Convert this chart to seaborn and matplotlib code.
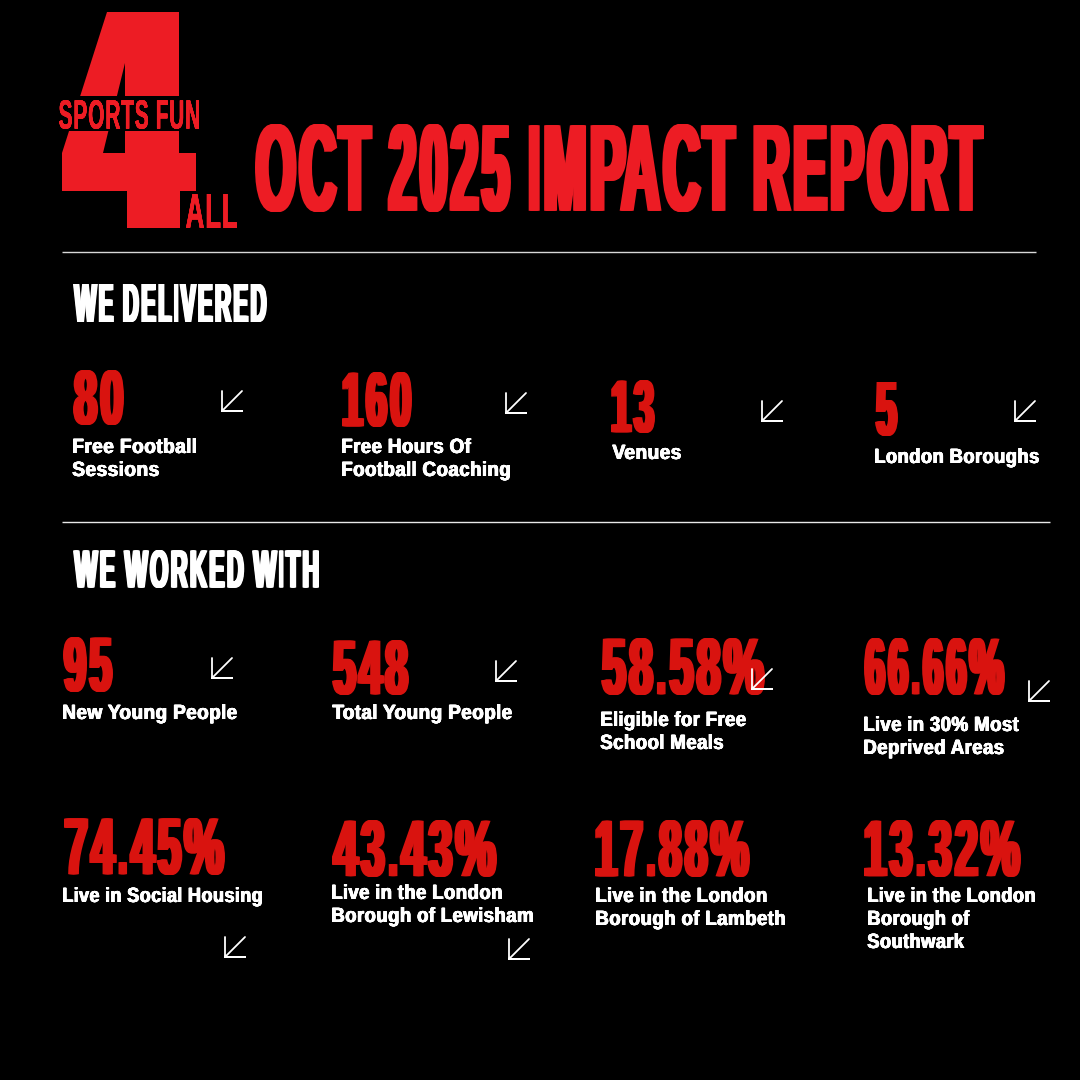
import matplotlib
matplotlib.use('Agg')
import matplotlib.pyplot as plt
import matplotlib.patheffects as pe
from matplotlib.font_manager import FontProperties
from matplotlib.patches import Polygon, Rectangle
from matplotlib.path import Path
from matplotlib.textpath import TextPath
from matplotlib.transforms import Affine2D
import numpy as np
import pandas as pd
import seaborn as sns

RED_LOGO = '#ED1C24'
RED_NUM = '#D9130F'
WHITE = '#FFFFFF'

# Chart content
title = 'OCT 2025 IMPACT REPORT'
logo_top = 'SPORTS FUN'
logo_bottom = 'ALL'
section_names = ['WE DELIVERED', 'WE WORKED WITH']

stat_values = ['80', '160', '13', '5',
               '95', '548', '58.58%', '66.66%',
               '74.45%', '43.43%', '17.88%', '13.32%']
stat_labels = ['Free Football\nSessions',
               'Free Hours Of\nFootball Coaching',
               'Venues',
               'London Boroughs',
               'New Young People',
               'Total Young People',
               'Eligible for Free\nSchool Meals',
               'Live in 30% Most\nDeprived Areas',
               'Live in Social Housing',
               'Live in the London\nBorough of Lewisham',
               'Live in the London\nBorough of Lambeth',
               'Live in the London\nBorough of\nSouthwark']

# Layout, in reference pixels: (left, right, top, bottom) of each number
value_boxes = [(73, 124, 370, 425), (342, 412, 372, 427), (611, 655, 380, 433), (875, 898, 382, 436),
               (63, 113, 637, 692), (332, 409, 640, 695), (601, 765, 638, 695), (864, 1005, 638, 695),
               (64, 225, 818, 875), (332, 497, 820, 877), (595, 750, 820, 877), (864, 1021, 820, 877)]
# left edge, first baseline and right edge of the longest line of each label
label_x = [73, 342, 612, 875, 63, 332, 601, 864, 63, 332, 596, 868]
label_y = [453, 453, 459, 463, 719, 719, 726, 731, 902, 899, 902, 902]
label_right = [196, 510, 681, 1039, 237, 512, 746, 1019, 262, 533, 785, 1035]
# bottom-left corner of each arrow
arrow_x = [222, 506, 762, 1015, 212, 496, 752, 1029, 225, 509]
arrow_y = [411, 413, 421, 421, 678, 681, 689, 701, 957, 959]


def narrow_glyphs(path, cut):
    """Shrink every glyph about its own centre by cut units, leaving the advances alone."""
    verts = path.vertices.copy()
    codes = path.codes
    starts = np.flatnonzero(codes == Path.MOVETO)
    spans = []
    for a, b in zip(starts, list(starts[1:]) + [len(codes)]):
        xs = verts[a:b][codes[a:b] != Path.CLOSEPOLY, 0]
        spans.append((xs.min(), xs.max(), a, b))
    spans.sort()
    groups = []
    for lo, hi, a, b in spans:
        if groups and lo < groups[-1][1]:
            groups[-1][1] = max(groups[-1][1], hi)
            groups[-1][2].append((a, b))
        else:
            groups.append([lo, hi, [(a, b)]])
    for lo, hi, parts in groups:
        w = hi - lo
        k = max(w - cut, 0.3 * w) / w
        for a, b in parts:
            verts[a:b, 0] = (lo + hi) / 2 + (verts[a:b, 0] - (lo + hi) / 2) * k
    return Path(verts, codes)


class Stretch(pe.AbstractPathEffect):
    """Stretch the glyphs upward from the baseline, thicken the stems, set the letter gaps."""

    def __init__(self, sy, bold=0.0, gap=0.0):
        super().__init__()
        self.sy = sy
        self.bold = bold
        self.gap = gap

    def draw_path(self, renderer, gc, tpath, affine, rgbFace=None):
        scaled = Affine2D().scale(1, self.sy) + affine
        px_per_unit = abs(scaled.get_matrix()[0, 0])
        narrow = narrow_glyphs(tpath, (2 * self.bold + self.gap) / px_per_unit)
        for dx in np.linspace(-self.bold, self.bold, 7):
            renderer.draw_path(gc, narrow, scaled + Affine2D().translate(dx, 0), rgbFace)


def fit_text(ax, s, left, right, top, bottom, color, bold=0.0, gap=0.0):
    """Put s so that its ink fills the given box (caps and digits only)."""
    prop = FontProperties(family='Liberation Sans', weight='bold')
    ink = TextPath((0, 0), s, size=100, prop=prop).get_extents()
    size_px = 100 * (right - left + gap) / ink.width
    scale = size_px / 100
    sy = (bottom - top) / (ink.height * scale)
    x = left - gap / 2 - ink.x0 * scale
    y = bottom + ink.y0 * scale * sy
    t = ax.text(x, y, s, fontproperties=prop, fontsize=size_px * 0.72, color=color,
                va='baseline', ha='left', zorder=3)
    t.set_path_effects([Stretch(sy, bold, gap)])
    return t


def label_text(ax, s, left, right, baseline, cap_px, line_px, color, bold=0.0, gap=0.0):
    """Put a possibly multi-line label so its longest line ends at right."""
    prop = FontProperties(family='Liberation Sans', weight='bold')
    inks = [TextPath((0, 0), line, size=100, prop=prop).get_extents() for line in s.split('\n')]
    ink = max(inks, key=lambda b: b.width)
    size_px = 100 * (right - left + gap) / ink.width
    prop.set_size(size_px * 0.72)
    renderer = ax.figure.canvas.get_renderer()
    _, h, d = renderer.get_text_width_height_descent('lp', prop, False)
    sy = cap_px / (0.729 * size_px)
    spacing = (line_px - d) / (h - d)
    t = ax.text(left - gap / 2 - ink.x0 * size_px / 100, baseline - (h - d), s, fontproperties=prop,
                color=color, va='top', ha='left', linespacing=spacing, zorder=3)
    t.set_path_effects([Stretch(sy, bold, gap)])
    return t


def arrow_table(size=20):
    rows = []
    for i, (cx, cy) in enumerate(zip(arrow_x, arrow_y)):
        path = [(cx, cy - size), (cx, cy), (cx + size, cy), (cx, cy), (cx + size, cy - size)]
        for step, (x, y) in enumerate(path):
            rows.append({'arrow': i, 'step': step, 'x': x, 'y': y})
    return pd.DataFrame(rows)


def main():
    sns.set_theme(style='dark', rc={'figure.facecolor': 'black', 'axes.facecolor': 'black',
                                    'savefig.facecolor': 'black'})
    plt.rcParams['font.family'] = ['Liberation Sans', 'DejaVu Sans']

    fig, ax = plt.subplots(figsize=(10.8, 10.8), dpi=100)
    fig.subplots_adjust(0, 0, 1, 1)

    # Logo
    four = [(107, 12), (179, 12), (179, 153), (196, 153), (196, 191), (180, 191), (180, 228),
            (127, 228), (127, 191), (62, 191), (62, 153)]
    ax.add_patch(Polygon(four, closed=True, fc=RED_LOGO, ec='none', zorder=1))
    ax.add_patch(Polygon([(125, 63), (125, 153), (103, 153)], closed=True, fc='black', ec='none', zorder=1.5))
    ax.add_patch(Rectangle((55, 96), 130, 35, fc='black', ec='none', zorder=1.5))
    fit_text(ax, logo_top, 59, 199, 100, 129, RED_LOGO, bold=0.2, gap=0.4)
    fit_text(ax, logo_bottom, 186, 237, 194, 228, RED_LOGO, bold=0.2, gap=0.4)

    # Title and headings
    fit_text(ax, title, 255, 984, 124, 212, RED_LOGO, bold=3.2, gap=-3.0)
    fit_text(ax, section_names[0], 73, 267, 284, 322, WHITE, bold=1.5, gap=-0.8)
    fit_text(ax, section_names[1], 73, 319, 550, 588, WHITE, bold=1.5, gap=-0.8)

    # Rules
    ax.hlines(252, 62, 1036, color='#D8D8D8', lw=1, zorder=2)
    ax.hlines(522, 62, 1050, color='#E8E8E8', lw=1, zorder=2)

    # Stats
    for value, box in zip(stat_values, value_boxes):
        fit_text(ax, value, *box, RED_NUM, bold=2.4, gap=-1.8)
    for label, x, y, right in zip(stat_labels, label_x, label_y, label_right):
        label_text(ax, label, x, right, y, 15, 23, WHITE, bold=0.5, gap=-0.6)

    # Arrows
    sns.lineplot(data=arrow_table(), x='x', y='y', units='arrow', estimator=None, sort=False,
                 color=WHITE, lw=1.3, ax=ax, zorder=5, legend=False)

    ax.set_xlim(0, 1080)
    ax.set_ylim(1080, 0)
    ax.set_xlabel('')
    ax.set_ylabel('')
    ax.set_xticks([])
    ax.set_yticks([])
    sns.despine(ax=ax, left=True, bottom=True)

    fig.savefig('out.png', dpi=100)


if __name__ == '__main__':
    main()
